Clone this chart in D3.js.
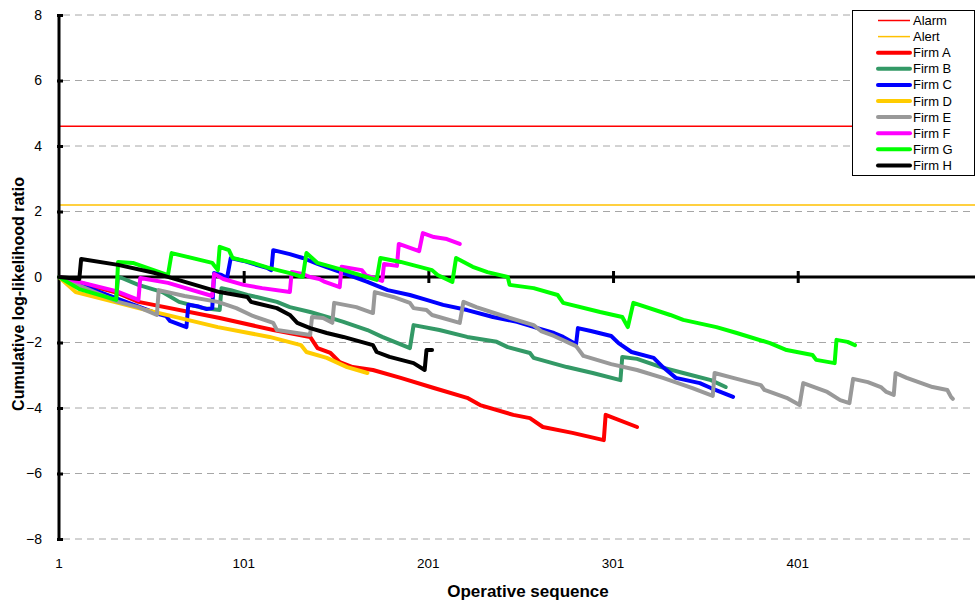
<!DOCTYPE html>
<html>
<head>
<meta charset="utf-8">
<script src="https://cdn.jsdelivr.net/npm/d3@7/dist/d3.min.js"></script>
<style>
  html, body { margin: 0; padding: 0; background: #fff; }
  svg { display: block; font-family: "Liberation Sans", Arial, sans-serif; }
</style>
</head>
<body>
<svg id="chart" width="976" height="605"></svg>
<script>
// Cumulative log-likelihood ratio per firm: [operative sequence, value]
const firmA = [[1,0],[33,-0.49],[44,-0.76],[88,-1.25],[117,-1.62],[137,-1.83],[141,-2.17],[148,-2.32],[153,-2.6],[160,-2.75],[171,-2.84],[186,-3.08],[204,-3.39],[222,-3.69],[229,-3.91],[247,-4.21],[256,-4.31],[263,-4.58],[279,-4.76],[296,-4.98],[297,-4.21],[314,-4.58]];
const firmB = [[1,0],[32,-0.67],[33,0],[35,-0.03],[44,-0.24],[57,-0.46],[66,-0.76],[79,-0.95],[88,-1.01],[89,-0.34],[94,-0.4],[103,-0.55],[108,-0.61],[119,-0.76],[126,-0.92],[137,-1.07],[148,-1.25],[155,-1.37],[168,-1.62],[176,-1.83],[191,-2.17],[193,-1.47],[207,-1.62],[222,-1.83],[238,-1.98],[244,-2.14],[256,-2.32],[258,-2.47],[276,-2.75],[290,-2.93],[305,-3.15],[306,-2.44],[314,-2.5],[327,-2.75],[339,-2.93],[354,-3.15],[362,-3.36]];
const firmC = [[1,0],[55,-1.13],[59,-1.19],[61,-1.34],[70,-1.53],[71,-0.85],[76,-0.89],[81,-0.98],[84,-0.95],[85,0.12],[89,0.06],[92,-0.03],[94,0.58],[101,0.49],[114,0.27],[116,0.21],[117,0.82],[126,0.7],[133,0.58],[141,0.4],[155,0.12],[168,-0.15],[179,-0.4],[191,-0.55],[200,-0.7],[209,-0.85],[222,-1.01],[236,-1.22],[249,-1.37],[262,-1.59],[269,-1.71],[274,-1.83],[281,-2.05],[282,-1.56],[289,-1.65],[300,-1.8],[304,-2.02],[311,-2.29],[323,-2.47],[328,-2.75],[335,-3.08],[348,-3.24],[354,-3.39],[366,-3.66]];
const firmD = [[1,0],[10,-0.46],[33,-0.79],[44,-0.95],[87,-1.53],[115,-1.83],[132,-2.08],[135,-2.29],[146,-2.47],[157,-2.75],[168,-2.93]];
const firmE = [[1,0],[33,-0.76],[44,-0.92],[54,-1.16],[55,-0.4],[69,-0.58],[87,-0.76],[97,-0.95],[106,-1.19],[117,-1.4],[119,-1.62],[137,-1.77],[138,-1.22],[144,-1.25],[149,-1.4],[150,-0.79],[162,-0.92],[171,-1.1],[172,-0.46],[182,-0.61],[191,-0.79],[193,-0.95],[200,-1.01],[203,-1.16],[218,-1.4],[220,-0.76],[227,-0.92],[240,-1.16],[258,-1.47],[262,-1.65],[269,-1.8],[281,-2.11],[285,-2.41],[300,-2.66],[314,-2.84],[328,-3.08],[344,-3.39],[355,-3.63],[356,-2.93],[366,-3.08],[381,-3.3],[383,-3.45],[395,-3.69],[402,-3.91],[404,-3.24],[417,-3.51],[424,-3.76],[429,-3.85],[431,-3.11],[439,-3.21],[446,-3.36],[449,-3.51],[453,-3.6],[454,-2.93],[460,-3.08],[474,-3.36],[482,-3.45],[484,-3.66],[485,-3.72]];
const firmF = [[1,0],[14,-0.18],[32,-0.43],[44,-0.7],[45,-0.03],[60,-0.18],[84,-0.58],[85,0.09],[90,-0.06],[101,-0.24],[111,-0.34],[126,-0.46],[127,0.15],[133,0.09],[137,0],[142,-0.06],[145,-0.15],[153,-0.31],[154,0.31],[165,0.21],[167,0.06],[176,-0.12],[177,0.4],[184,0.34],[185,1.01],[196,0.79],[198,1.34],[204,1.22],[211,1.16],[218,1.01]];
const firmG = [[1,0],[12,-0.37],[32,-0.7],[33,0.46],[41,0.43],[60,0.06],[62,0.73],[84,0.43],[87,0.21],[88,0.92],[93,0.82],[95,0.58],[106,0.43],[115,0.27],[126,0.12],[133,0],[135,0.73],[138,0.58],[141,0.43],[155,0.21],[173,-0.09],[175,0.58],[186,0.46],[203,0.21],[206,0.06],[214,-0.15],[216,0.58],[225,0.31],[233,0.15],[244,0],[245,-0.24],[258,-0.34],[271,-0.55],[274,-0.79],[294,-1.07],[306,-1.22],[309,-1.53],[312,-0.79],[332,-1.16],[339,-1.31],[357,-1.53],[368,-1.71],[386,-2.02],[395,-2.23],[409,-2.38],[411,-2.53],[421,-2.63],[422,-1.92],[428,-1.98],[432,-2.08]];
const firmH = [[1,0],[12,-0.06],[13,0.55],[33,0.37],[53,0.12],[71,-0.18],[88,-0.46],[103,-0.61],[105,-0.76],[119,-0.95],[126,-1.16],[130,-1.4],[137,-1.56],[146,-1.71],[155,-1.83],[171,-2.08],[173,-2.29],[180,-2.44],[193,-2.63],[199,-2.84],[200,-2.23],[203,-2.23]];

// Control limits
const alarmLevel = 4.6;
const alertLevel = 2.2;

const firmNames = ["Firm A","Firm B","Firm C","Firm D","Firm E","Firm F","Firm G","Firm H"];
const firmSeries = [firmA, firmB, firmC, firmD, firmE, firmF, firmG, firmH];
const firmColors = ["#FF0000","#339966","#0000FF","#FFCC00","#999999","#FF00FF","#00FF00","#000000"];

const xTicks = [1, 101, 201, 301, 401];
const yTicks = [-8, -6, -4, -2, 0, 2, 4, 6, 8];

const svg = d3.select("#chart");
const plotLeft = 59, plotRight = 975, plotTop = 15, plotBottom = 539;

const x = d3.scaleLinear().domain([1, 497]).range([plotLeft, plotRight]);
const y = d3.scaleLinear().domain([-8, 8]).range([plotBottom, plotTop]);

// Dashed horizontal gridlines
svg.append("g")
  .selectAll("line")
  .data(yTicks.filter(d => d !== 0))
  .join("line")
  .attr("x1", plotLeft + 4).attr("x2", plotRight)
  .attr("y1", d => y(d)).attr("y2", d => y(d))
  .attr("stroke", "#a6a6a6")
  .attr("stroke-width", 1)
  .attr("stroke-dasharray", "7,5");

// Alarm and alert limits
svg.append("line")
  .attr("x1", plotLeft).attr("x2", plotRight)
  .attr("y1", y(alarmLevel)).attr("y2", y(alarmLevel))
  .attr("stroke", "#FF0000").attr("stroke-width", 1.5);
svg.append("line")
  .attr("x1", plotLeft).attr("x2", plotRight)
  .attr("y1", y(alertLevel)).attr("y2", y(alertLevel))
  .attr("stroke", "#FFC000").attr("stroke-width", 1.5);

// Horizontal axis through zero
const xAxis = d3.axisBottom(x)
  .tickValues(xTicks.filter(d => d !== 1))
  .tickSize(0)
  .tickFormat("");
const xAxisG = svg.append("g")
  .attr("transform", `translate(0,${y(0)})`)
  .call(xAxis);
xAxisG.select(".domain").remove();
xAxisG.append("line")
  .attr("x1", plotLeft).attr("x2", plotRight)
  .attr("y1", 0).attr("y2", 0)
  .attr("stroke", "#000").attr("stroke-width", 3);
xAxisG.selectAll(".tick").append("line")
  .attr("y1", -6).attr("y2", 6)
  .attr("stroke", "#000").attr("stroke-width", 3);

// Category labels along the bottom
svg.append("g")
  .selectAll("text")
  .data(xTicks)
  .join("text")
  .attr("x", d => x(d))
  .attr("y", 568)
  .attr("text-anchor", "middle")
  .attr("font-size", 13.5)
  .attr("fill", "#000")
  .text(d => d);

// Vertical axis
const yAxis = d3.axisLeft(y)
  .tickValues(yTicks)
  .tickSize(0)
  .tickPadding(17)
  .tickFormat(d3.format("d"));
const yAxisG = svg.append("g")
  .attr("transform", `translate(${plotLeft},0)`)
  .call(yAxis);
yAxisG.select(".domain").remove();
yAxisG.selectAll(".tick text")
  .attr("font-size", 14)
  .attr("fill", "#000")
  .attr("font-family", "Liberation Sans, Arial, sans-serif");
yAxisG.selectAll(".tick").append("line")
  .attr("x1", -2).attr("x2", 4)
  .attr("stroke", "#000").attr("stroke-width", 3);
yAxisG.append("line")
  .attr("x1", 0).attr("x2", 0)
  .attr("y1", plotTop).attr("y2", plotBottom)
  .attr("stroke", "#000").attr("stroke-width", 3);

// Firm series
const line = d3.line().x(d => x(d[0])).y(d => y(d[1]));
svg.append("g")
  .selectAll("path")
  .data(firmSeries)
  .join("path")
  .attr("d", line)
  .attr("fill", "none")
  .attr("stroke", (d, i) => firmColors[i])
  .attr("stroke-width", 4)
  .attr("stroke-linejoin", "round")
  .attr("stroke-linecap", "round");

// Axis titles
svg.append("text")
  .attr("x", 528).attr("y", 597)
  .attr("text-anchor", "middle")
  .attr("font-size", 17)
  .attr("font-weight", "bold")
  .text("Operative sequence");
svg.append("text")
  .attr("transform", "translate(24,294) rotate(-90)")
  .attr("text-anchor", "middle")
  .attr("font-size", 16)
  .attr("font-weight", "bold")
  .text("Cumulative log-likelihood ratio");

// Legend
const legend = svg.append("g");
legend.append("rect")
  .attr("x", 852.5).attr("y", 10.5)
  .attr("width", 122).attr("height", 165)
  .attr("fill", "#fff").attr("stroke", "#000").attr("stroke-width", 1);
const legendItems = [
  {name: "Alarm", color: "#FF0000", width: 1.5},
  {name: "Alert", color: "#FFC000", width: 1.5}
].concat(firmNames.map((n, i) => ({name: n, color: firmColors[i], width: 4})));
const li = legend.selectAll("g.item")
  .data(legendItems)
  .join("g")
  .attr("class", "item")
  .attr("transform", (d, i) => `translate(0,${20.5 + i * 16.1})`);
li.append("line")
  .attr("x1", 878).attr("x2", 910)
  .attr("stroke", d => d.color)
  .attr("stroke-width", d => d.width)
  .attr("stroke-linecap", d => d.width > 2 ? "round" : "butt");
li.append("text")
  .attr("x", 913).attr("y", 4.5)
  .attr("font-size", 13)
  .text(d => d.name);
</script>
</body>
</html>
